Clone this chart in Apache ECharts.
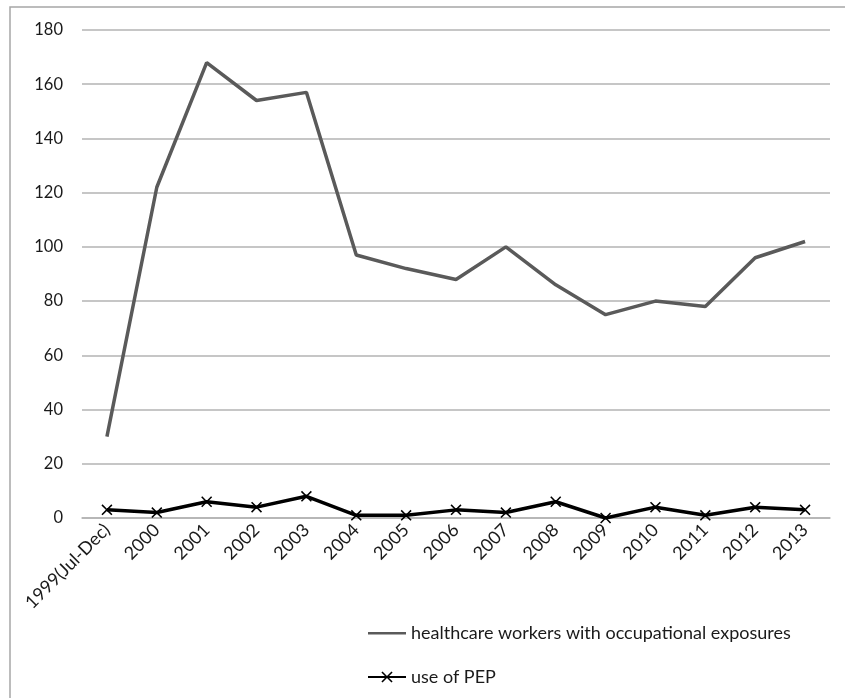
<!DOCTYPE html>
<html>
<head>
<meta charset="utf-8">
<script src="https://cdn.jsdelivr.net/npm/echarts@6/dist/echarts.min.js"></script>
<style>
  html, body { margin: 0; padding: 0; background: #fff; }
  #chart { width: 845px; height: 698px; }
</style>
</head>
<body>
<div id="chart"></div>
<script>
// Annual counts, July 1999 through 2013
const years = ['1999(Jul-Dec)', '2000', '2001', '2002', '2003', '2004', '2005', '2006',
  '2007', '2008', '2009', '2010', '2011', '2012', '2013'];
const exposures = [30, 122, 168, 154, 157, 97, 92, 88, 100, 86, 75, 80, 78, 96, 102];
const pepUse = [3, 2, 6, 4, 8, 1, 1, 3, 2, 6, 0, 4, 1, 4, 3];
const exposuresName = 'healthcare workers with occupational exposures';
const pepName = 'use of PEP';

// thin diagonal cross used as the point marker
const crossPath = 'path://M0,1L1,0L5,4L9,0L10,1L6,5L10,9L9,10L5,6L1,10L0,9L4,5Z';
// plain line legend key: a thin bar, with tiny corner dots fixing the box size
const lineKey = 'path://M0,0L0.01,0L0.01,0.01Z M0,6H40V8.5H0Z M39.99,14L40,14L40,13.99Z';

const chart = echarts.init(document.getElementById('chart'));
const font = 'Lato, "Open Sans", sans-serif';

chart.setOption({
  animation: false,
  backgroundColor: '#fff',
  graphic: [{
    type: 'rect',
    shape: { x: 10, y: 7, width: 860, height: 720 },
    style: { fill: 'none', stroke: '#a6a6a6', lineWidth: 1.5 },
    silent: true
  }],
  grid: { left: 82, right: 15, top: 30, bottom: 180 },
  legend: {
    orient: 'vertical',
    left: 362,
    top: 619,
    itemGap: 26,
    itemWidth: 38,
    itemHeight: 14,
    textStyle: { fontFamily: font, fontSize: 18, color: '#1a1a1a' },
    data: [
      { name: exposuresName, icon: lineKey },
      { name: pepName }
    ]
  },
  xAxis: {
    type: 'category',
    data: years,
    boundaryGap: true,
    axisLine: { lineStyle: { color: '#b3b3b3', width: 1.5 } },
    axisTick: { show: false },
    axisLabel: {
      rotate: 45,
      interval: 0,
      margin: 9,
      fontFamily: font,
      fontSize: 18,
      color: '#1a1a1a'
    }
  },
  yAxis: {
    type: 'value',
    min: 0,
    max: 180,
    interval: 20,
    axisLine: { show: false },
    axisTick: { show: false },
    axisLabel: { margin: 19, fontFamily: font, fontSize: 16.5, color: '#1a1a1a' },
    splitLine: { lineStyle: { color: '#b3b3b3', width: 1.5 } }
  },
  series: [
    {
      name: exposuresName,
      type: 'line',
      data: exposures,
      symbol: 'none',
      lineStyle: { color: '#5a5a5a', width: 3.5 },
      itemStyle: { color: '#5a5a5a' }
    },
    {
      name: pepName,
      type: 'line',
      data: pepUse,
      symbol: crossPath,
      symbolSize: 11,
      showSymbol: true,
      lineStyle: { color: '#000', width: 3.5 },
      itemStyle: { color: '#000' }
    }
  ]
});
</script>
</body>
</html>
